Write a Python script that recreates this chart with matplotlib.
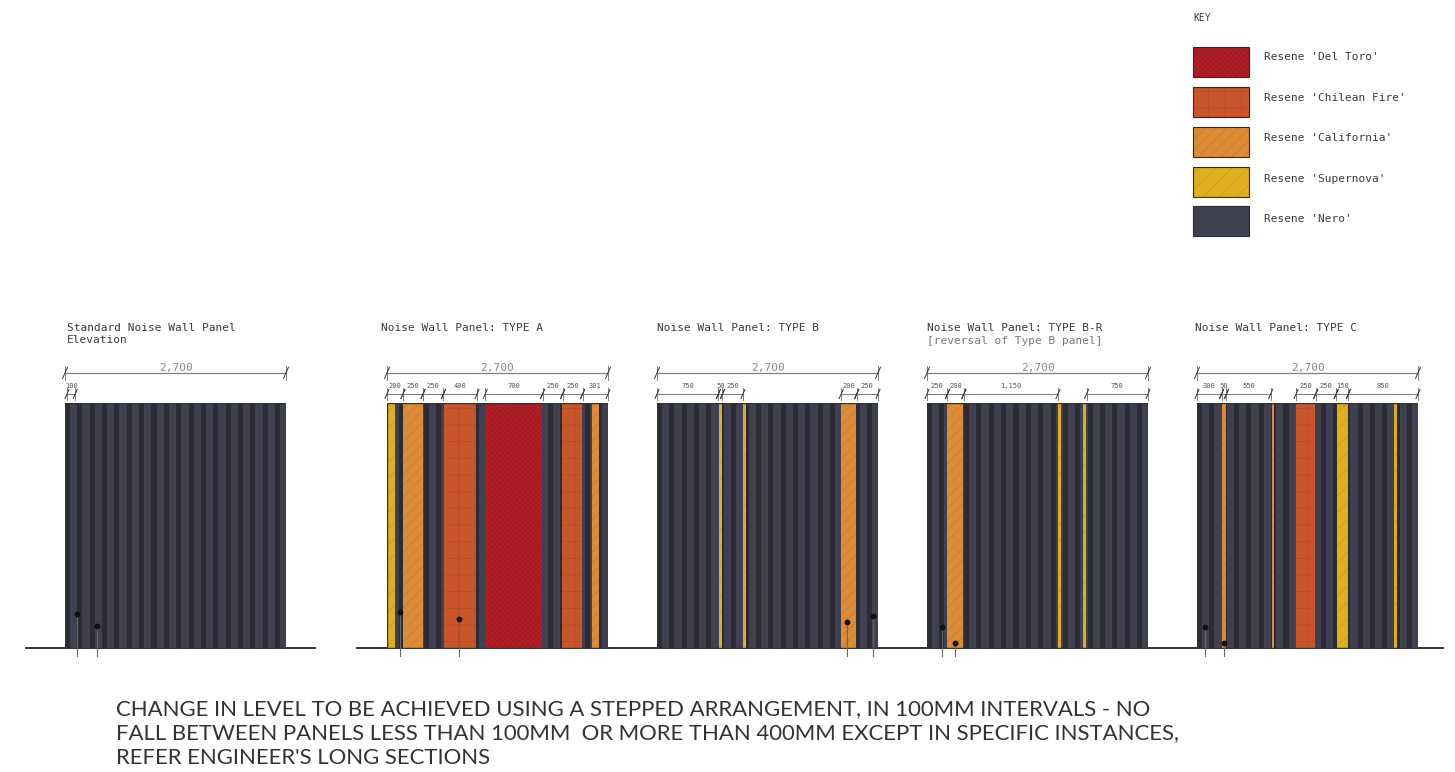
import matplotlib
matplotlib.use('Agg')
import matplotlib.pyplot as plt
from matplotlib.patches import Rectangle

W, H = 1455, 772
PANEL_W = 221
PANEL_TOP, GROUND = 403, 648
MM_W = 2700
MM_H = 2990

RED = '#B21E26'
FIRE = '#C9552A'
CALI = '#DC8C36'
NOVA = '#DEAF1F'
NERO = '#3F4151'
RIB = '#2B2C36'
TXT = '#3A3A3A'
GREY = '#808080'

rib_starts = [0, 146, 301, 452, 603, 754, 905, 1056, 1207, 1358, 1509, 1660, 1811, 1962, 2113, 2264, 2415, 2566]

key_names = ["Resene 'Del Toro'", "Resene 'Chilean Fire'", "Resene 'California'", "Resene 'Supernova'", "Resene 'Nero'"]
key_colors = [RED, FIRE, CALI, NOVA, NERO]
key_hatch = ['xxxxxx', '+', '///', '//', None]
key_tops = [47, 87, 127, 167, 206]
key_text_y = [57, 98, 138, 179, 219]
hatch_of = dict(zip(key_colors, key_hatch))

panel_left = [65, 387, 657, 927, 1197]
panel_title = ['Standard Noise Wall Panel\nElevation', 'Noise Wall Panel: TYPE A', 'Noise Wall Panel: TYPE B',
               'Noise Wall Panel: TYPE B-R', 'Noise Wall Panel: TYPE C']
title_x = [67, 381, 657, 927, 1195]

# colour bands on each panel: start, end (mm), colour
bands = [
    [],
    [(0, 100, NOVA), (195, 440, CALI), (700, 1090, FIRE), (1195, 1890, RED), (2135, 2380, FIRE), (2500, 2590, CALI)],
    [(757, 800, NOVA), (1054, 1090, NOVA), (2247, 2433, CALI)],
    [(248, 440, CALI), (1603, 1636, NOVA), (1905, 1941, NOVA)],
    [(310, 350, CALI), (912, 944, CALI), (1205, 1441, FIRE), (1706, 1847, NOVA), (2405, 2442, NOVA)],
]

# dimension strings: start, end (mm), label
dims = [
    [(25, 125, '100')],
    [(0, 195, '200'), (195, 440, '250'), (440, 690, '250'), (690, 1100, '400'), (1200, 1900, '700'),
     (1900, 2145, '250'), (2145, 2390, '250'), (2390, 2700, '301')],
    [(0, 750, '750'), (750, 800, '50'), (800, 1050, '250'), (2250, 2440, '200'), (2440, 2700, '250')],
    [(0, 250, '250'), (250, 450, '200'), (450, 1600, '1,150'), (1950, 2700, '750')],
    [(0, 300, '300'), (300, 360, '50'), (360, 900, '550'), (1210, 1450, '250'), (1450, 1700, '250'),
     (1700, 1850, '150'), (1850, 2700, '850')],
]

# fixing points: x, height (mm)
dots = [
    [(146, 415), (385, 269)],
    [(159, 440), (879, 354)],
    [(2320, 317), (2637, 391)],
    [(183, 256), (342, 61)],
    [(98, 256), (330, 61)],
]

note_lines = ["CHANGE IN LEVEL TO BE ACHIEVED USING A STEPPED ARRANGEMENT, IN 100MM INTERVALS - NO",
              "FALL BETWEEN PANELS LESS THAN 100MM  OR MORE THAN 400MM EXCEPT IN SPECIFIC INSTANCES,",
              "REFER ENGINEER'S LONG SECTIONS"]
note_y = [709, 733, 758]

plt.rcParams['hatch.linewidth'] = 0.5
fig = plt.figure(figsize=(W / 100, H / 100), dpi=100)

# whole-figure axes in pixels for key, titles, ground lines and the note
page = fig.add_axes([0, 0, 1, 1])
page.set_xlim(0, W)
page.set_ylim(H, 0)
page.axis('off')


def tick(ax, x, y, size):
    ax.plot([x, x], [y - size, y + size], color=GREY, lw=0.7, clip_on=False)
    ax.plot([x - size * 0.35, x + size * 0.35], [y - size * 0.8, y + size * 0.8], color='#333333', lw=0.7, clip_on=False)


page.text(1193, 18, 'KEY', family='DejaVu Sans Mono', fontsize=7, color=TXT, va='center')
for name, col, hat, top, ty in zip(key_names, key_colors, key_hatch, key_tops, key_text_y):
    page.add_patch(Rectangle((1193, top), 56, 30, facecolor=col, edgecolor='#2B2B2B', lw=0.8))
    if hat:
        page.add_patch(Rectangle((1193, top), 56, 30, facecolor='none', edgecolor='#0000001c', hatch=hat, lw=0))
    page.text(1264, ty, name, family='DejaVu Sans Mono', fontsize=8, color=TXT, va='center')

for x, title in zip(title_x, panel_title):
    page.text(x, 323, title, family='DejaVu Sans Mono', fontsize=8, color=TXT, va='top', linespacing=1.25)
page.text(927, 341, '[reversal of Type B panel]', family='DejaVu Sans Mono', fontsize=8, color='#777777', va='center')

page.plot([26, 315], [GROUND, GROUND], color='#222222', lw=1.3)
page.plot([357, 1443], [GROUND, GROUND], color='#222222', lw=1.3)

for y, line in zip(note_y, note_lines):
    page.text(116, y, line, family='Lato', fontsize=15.9, color='#333333', va='center')

for i in range(5):
    ax = fig.add_axes([panel_left[i] / W, 1 - GROUND / H, PANEL_W / W, (GROUND - PANEL_TOP) / H])
    ax.set_xlim(0, MM_W)
    ax.set_ylim(0, MM_H)
    ax.axis('off')

    ax.bar(0, MM_H, width=MM_W, align='edge', color=NERO, linewidth=0)
    ax.bar(rib_starts, MM_H, width=62, align='edge', color=RIB, linewidth=0)
    for start, end, col in bands[i]:
        ax.bar(start, MM_H, width=end - start, align='edge', color=col, linewidth=0)
        if hatch_of[col]:
            ax.bar(start, MM_H, width=end - start, align='edge', color='none', edgecolor='#0000001c',
                   hatch=hatch_of[col], linewidth=0)
    ax.add_patch(Rectangle((0, 0), MM_W, MM_H, fill=False, edgecolor='#333333', lw=1.0))

    for x, h in dots[i]:
        ax.plot([x, x], [h, -98], color='#666666', lw=0.8, clip_on=False, zorder=6)
        ax.plot(x, h, 'o', color='#111111', ms=3.2, clip_on=False, zorder=7)

    # overall dimension
    ax.plot([0, MM_W], [3358, 3358], color=GREY, lw=0.9, clip_on=False)
    tick(ax, 0, 3358, 85)
    tick(ax, MM_W, 3358, 85)
    ax.text(MM_W / 2, 3358, '2,700', family='DejaVu Sans Mono', fontsize=8, color='#888888', ha='center', va='bottom')

    # panel dimension string
    chain_y = 3100
    for start, end, label in dims[i]:
        ax.plot([start, end], [chain_y, chain_y], color=GREY, lw=0.8, clip_on=False)
        tick(ax, start, chain_y, 70)
        tick(ax, end, chain_y, 70)
        ax.text((start + end) / 2, chain_y + 60, label, family='DejaVu Sans Mono', fontsize=5, color='#555555',
                ha='center', va='bottom')

fig.savefig('out.png', dpi=100)
